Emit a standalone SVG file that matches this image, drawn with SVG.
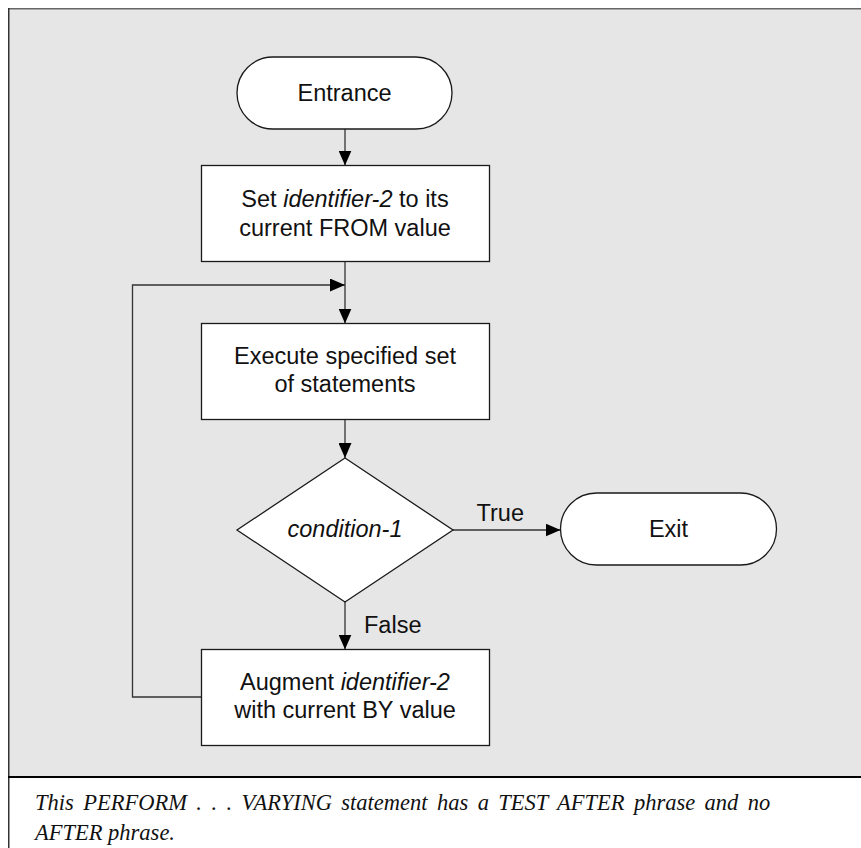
<svg xmlns="http://www.w3.org/2000/svg" width="861" height="848" viewBox="0 0 861 848">
<defs>
<style>
.node{fill:#ffffff;stroke:#1a1a1a;stroke-width:1.3}
.t{font-family:"Liberation Sans",Arial,sans-serif;font-size:23.5px;fill:#111}
.c{text-anchor:middle}
.i{font-style:italic}
.conn{fill:none;stroke:#333333;stroke-width:1.3}
.cap{font-family:"Liberation Serif","Times New Roman",serif;font-style:italic;font-size:22.5px;fill:#111}
</style>
<marker id="ah" markerWidth="15" markerHeight="13" refX="15" refY="6.5" orient="auto" markerUnits="userSpaceOnUse">
<path d="M0,0 L15,6.5 L0,13 Z" fill="#000"/>
</marker>
</defs>
<rect x="0" y="0" width="861" height="848" fill="#ffffff"/>
<rect x="9" y="9" width="852" height="768" fill="#e6e6e6"/>
<line x1="8" y1="8.75" x2="861" y2="8.75" stroke="#666666" stroke-width="1.5"/>
<line x1="8.75" y1="8" x2="8.75" y2="848" stroke="#333333" stroke-width="1.5"/>
<line x1="8" y1="777" x2="861" y2="777" stroke="#000000" stroke-width="2"/>

<g id="connectors">
<line class="conn" x1="345" y1="129" x2="345" y2="165.5" marker-end="url(#ah)"/>
<line class="conn" x1="345" y1="261.5" x2="345" y2="323.5" marker-end="url(#ah)"/>
<line class="conn" x1="345" y1="419.5" x2="345" y2="458" marker-end="url(#ah)"/>
<line class="conn" x1="453" y1="530" x2="560.5" y2="530" marker-end="url(#ah)"/>
<line class="conn" x1="345" y1="602" x2="345" y2="649.5" marker-end="url(#ah)"/>
<polyline class="conn" points="201.5,697 132.5,697 132.5,285 345,285" marker-end="url(#ah)"/>
<text class="t" x="476.5" y="520.5">True</text>
<text class="t" x="364" y="632.5">False</text>
</g>

<g id="entrance">
<rect class="node" x="237" y="57" width="215" height="72" rx="36" ry="36"/>
<text class="t c" x="344.5" y="101">Entrance</text>
</g>

<g id="set">
<rect class="node" x="201.5" y="165.5" width="288" height="96"/>
<text class="t c" x="345" y="207"><tspan>Set </tspan><tspan class="i">identifier-2</tspan><tspan> to its</tspan></text>
<text class="t c" x="345" y="235.5">current FROM value</text>
</g>

<g id="execute">
<rect class="node" x="201.5" y="323.5" width="288" height="96"/>
<text class="t c" x="345" y="363.5">Execute specified set</text>
<text class="t c" x="345" y="392">of statements</text>
</g>

<g id="condition">
<polygon class="node" points="345,458 453,530 345,602 237,530"/>
<text class="t c i" x="345" y="537">condition-1</text>
</g>

<g id="exit">
<rect class="node" x="560.5" y="493" width="216" height="72" rx="36" ry="36"/>
<text class="t c" x="668.5" y="537">Exit</text>
</g>

<g id="augment">
<rect class="node" x="201.5" y="649.5" width="288" height="96"/>
<text class="t c" x="345" y="689.5"><tspan>Augment </tspan><tspan class="i">identifier-2</tspan></text>
<text class="t c" x="345" y="718">with current BY value</text>
</g>

<g id="caption">
<text class="cap" x="35" y="810" word-spacing="3.8">This PERFORM . . . VARYING statement has a TEST AFTER phrase and no</text>
<text class="cap" x="35" y="840">AFTER phrase.</text>
</g>
</svg>
